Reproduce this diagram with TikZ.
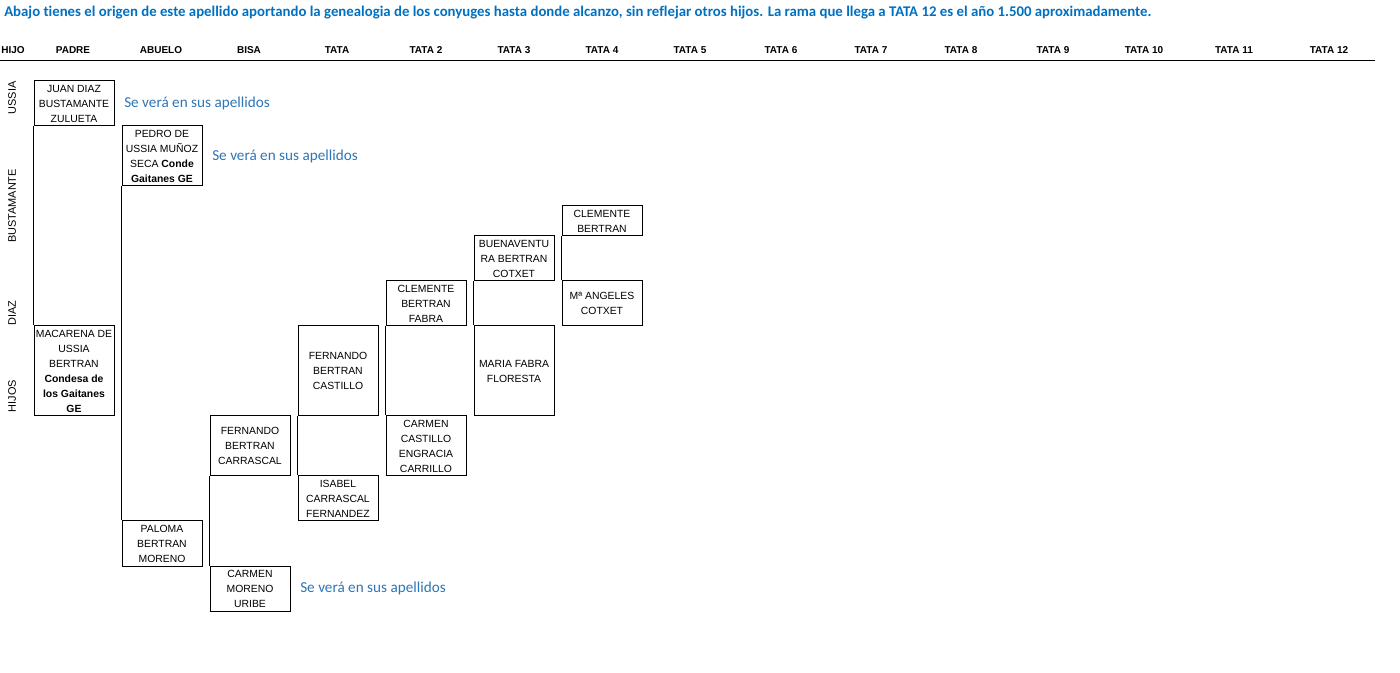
\documentclass[tikz,border=0pt]{standalone}
\usepackage{fontspec}
\setmainfont{Liberation Sans}
\newfontfamily\calib[Ligatures=NoCommon]{Carlito}
\definecolor{titleblue}{HTML}{0070C0}
\definecolor{noteblue}{HTML}{2E75B6}
\begin{document}
\begin{tikzpicture}[x=0.75pt,y=-0.75pt,
  person/.style={draw=black, line width=0.75pt, inner sep=0pt, anchor=north west,
    minimum width=60pt, align=center, font=\fontsize{7.8}{11.25}\selectfont},
  link/.style={draw=black, line width=0.75pt},
  hdr/.style={inner sep=0pt, font=\bfseries\fontsize{7.5}{9}\selectfont},
  side/.style={inner sep=0pt, rotate=90, font=\fontsize{8.2}{9}\selectfont},
  note/.style={inner sep=0pt, anchor=west, text=noteblue, font=\calib\fontsize{11.4}{13}\selectfont}]
\useasboundingbox (0,0) rectangle (1400,673);
% title
\node[anchor=west, inner sep=0pt, text=titleblue, font=\calib\bfseries\fontsize{11.1}{13}\selectfont] (title) at (4,12.5)
  {Abajo tienes el origen de este apellido aportando la genealogia de los conyuges hasta donde alcanzo, sin reflejar otros hijos. La rama que llega a TATA 12 es el año 1.500 aproximadamente.};
% header
\node[hdr] (h0) at (13,50) {HIJO};
\node[hdr] (h1) at (73,50) {PADRE};
\node[hdr] (h2) at (161,50) {ABUELO};
\node[hdr] (h3) at (249,50) {BISA};
\node[hdr] (h4) at (337,50) {TATA};
\node[hdr] (h5) at (426,50) {TATA 2};
\node[hdr] (h6) at (514,50) {TATA 3};
\node[hdr] (h7) at (602,50) {TATA 4};
\node[hdr] (h8) at (690,50) {TATA 5};
\node[hdr] (h9) at (781,50) {TATA 6};
\node[hdr] (h10) at (871,50) {TATA 7};
\node[hdr] (h11) at (961,50) {TATA 8};
\node[hdr] (h12) at (1053,50) {TATA 9};
\node[hdr] (h13) at (1144,50) {TATA 10};
\node[hdr] (h14) at (1234,50) {TATA 11};
\node[hdr] (h15) at (1329,50) {TATA 12};
\coordinate (hl1) at (0,60.5);
\coordinate (hl2) at (1374.5,60.5);
\draw[link] (hl1) -- (hl2);
% side labels
\node[side] (s1) at (12,98) {USSIA};
\node[side] (s2) at (12,206) {BUSTAMANTE};
\node[side] (s3) at (12,313) {DIAZ};
\node[side] (s4) at (12,396) {HIJOS};
% persons
\node[person, minimum height=33.75pt] (juan) at (33.5,80.5) {JUAN DIAZ\\BUSTAMANTE\\ZULUETA};
\node[person, minimum height=67.5pt] (macarena) at (33.5,325.5) {MACARENA DE\\USSIA\\BERTRAN\\\textbf{Condesa de}\\\textbf{los Gaitanes}\\\textbf{GE}};
\node[person, minimum height=45pt] (pedro) at (121.5,125.5) {PEDRO DE\\USSIA MUÑOZ\\SECA \textbf{Conde}\\\textbf{Gaitanes GE}};
\node[person, minimum height=33.75pt] (paloma) at (121.5,520.5) {PALOMA\\BERTRAN\\MORENO};
\node[person, minimum height=45pt] (fcarrascal) at (209.5,415.5) {FERNANDO\\BERTRAN\\CARRASCAL};
\node[person, minimum height=33.75pt] (cmoreno) at (209.5,565.5) {CARMEN\\MORENO\\URIBE};
\node[person, minimum height=67.5pt] (fcastillo) at (297.5,325.5) {FERNANDO\\BERTRAN\\CASTILLO};
\node[person, minimum height=33.75pt] (isabel) at (297.5,475.5) {ISABEL\\CARRASCAL\\FERNANDEZ};
\node[person, minimum height=33.75pt] (cfabra) at (385.5,280.5) {CLEMENTE\\BERTRAN\\FABRA};
\node[person, minimum height=45pt] (ccastillo) at (385.5,415.5) {CARMEN\\CASTILLO\\ENGRACIA\\CARRILLO};
\node[person, minimum height=33.75pt] (buenaventura) at (473.5,235.5) {BUENAVENTU\\RA BERTRAN\\COTXET};
\node[person, minimum height=67.5pt] (maria) at (473.5,325.5) {MARIA FABRA\\FLORESTA};
\node[person, minimum height=22.5pt] (cbertran) at (561.5,205.5) {CLEMENTE\\BERTRAN};
\node[person, minimum height=33.75pt] (mangeles) at (561.5,280.5) {Mª ANGELES\\COTXET};
% connectors
\draw[link] (juan.south west) -- (macarena.north west);
\draw[link] (pedro.south west) -- (paloma.north west);
\draw[link] (fcarrascal.south west) -- (cmoreno.north west);
\draw[link] (fcastillo.south west) -- (isabel.north west);
\draw[link] (cfabra.south west) -- (ccastillo.north west);
\draw[link] (buenaventura.south west) -- (maria.north west);
\draw[link] (cbertran.south west) -- (mangeles.north west);
% notes
\node[note] (n1) at (124,103) {Se verá en sus apellidos};
\node[note] (n2) at (212,156) {Se verá en sus apellidos};
\node[note] (n3) at (300,588) {Se verá en sus apellidos};
\end{tikzpicture}
\end{document}
